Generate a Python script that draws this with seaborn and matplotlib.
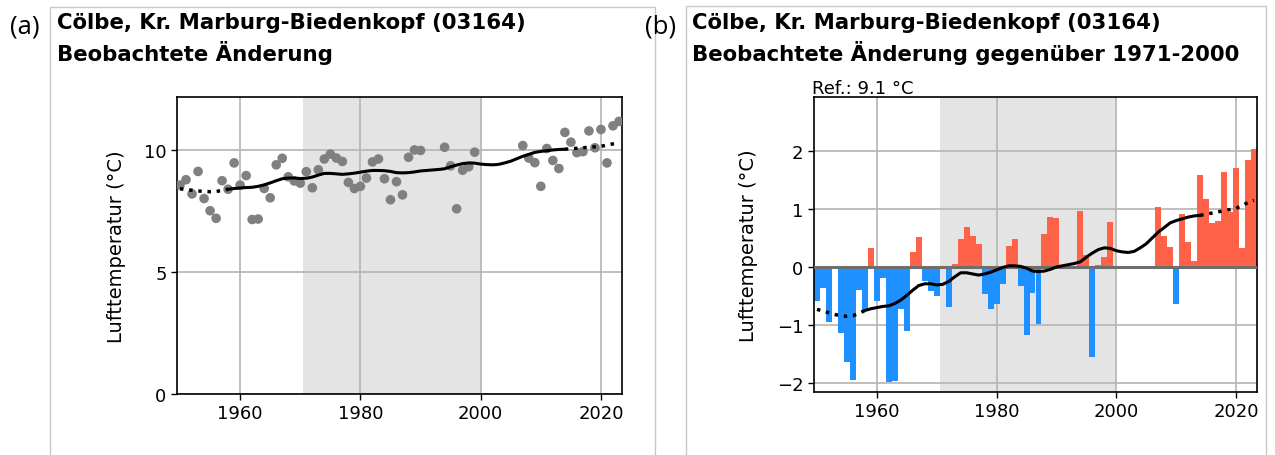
import numpy as np
import pandas as pd
import matplotlib.pyplot as plt
import seaborn as sns
from matplotlib.patches import Rectangle

# Annual mean temperature anomalies vs 1971-2000 (NaN = missing year)
years = list(range(1950, 2024))
ref_temp = 9.14
anomaly = [
    -0.58, -0.36, -0.94, -0.02, -1.13, -1.63, -1.94, -0.40, -0.75, 0.33,   # 1950-1959
    -0.58, -0.19, -1.99, -1.97, -0.72, -1.10, 0.25, 0.52, -0.24, -0.41,    # 1960-1969
    -0.50, -0.03, -0.69, 0.05, 0.49, 0.69, 0.53, 0.39, -0.47, -0.72,       # 1970-1979
    -0.63, -0.29, 0.37, 0.49, -0.32, -1.18, -0.44, -0.98, 0.56, 0.86,      # 1980-1989
    0.84, np.nan, np.nan, np.nan, 0.97, 0.21, -1.55, 0.03, 0.17, 0.77,     # 1990-1999
    np.nan, np.nan, np.nan, np.nan, np.nan, np.nan, np.nan, 1.04, 0.53, 0.34,  # 2000-2009
    -0.63, 0.92, 0.43, 0.10, 1.58, 1.18, 0.75, 0.79, 1.64, 0.95,           # 2010-2019
    1.70, 0.33, 1.85, 2.03,                                                 # 2020-2023
]
# smoothed trend (anomaly)
trend = [
    -0.73, -0.76, -0.79, -0.82, -0.84, -0.85, -0.84, -0.80, -0.75, -0.72,
    -0.70, -0.68, -0.67, -0.63, -0.57, -0.49, -0.40, -0.32, -0.29, -0.29,
    -0.31, -0.30, -0.25, -0.17, -0.10, -0.10, -0.12, -0.14, -0.12, -0.09,
    -0.05, -0.01, 0.02, 0.02, 0.01, -0.02, -0.07, -0.08, -0.07, -0.04,
    0.00, 0.02, 0.04, 0.06, 0.09, 0.17, 0.24, 0.30, 0.33, 0.32,
    0.28, 0.26, 0.25, 0.27, 0.33, 0.40, 0.50, 0.60, 0.68, 0.76,
    0.80, 0.83, 0.86, 0.88, 0.89, 0.91, 0.93, 0.95, 0.97, 0.99,
    1.01, 1.06, 1.11, 1.15,
]
ref_period = (1970.5, 2000)
solid_range = (1958, 2014)

df = pd.DataFrame({"year": years, "anom": anomaly, "trend": trend})
df["temp"] = ref_temp + df["anom"]
df["trend_abs"] = ref_temp + df["trend"]
solid = df[(df.year >= solid_range[0]) & (df.year <= solid_range[1])]
early = df[df.year <= solid_range[0]]
late = df[df.year >= solid_range[1]]

sns.set_style("ticks")
plt.rcParams["font.family"] = ["DejaVu Sans"]
for key in ["text.color", "axes.labelcolor", "xtick.color", "ytick.color"]:
    plt.rcParams[key] = "black"

W, H = 1275, 456
fig = plt.figure(figsize=(W / 100, H / 100), dpi=100)


def px_axes(l, t, r, b):
    return fig.add_axes([l / W, 1 - b / H, (r - l) / W, (b - t) / H])


# panel frames
for l, t, r in [(50, 8, 655), (686, 7, 1266)]:
    fig.patches.append(Rectangle((l / W, -0.05), (r - l) / W, 1.05 - t / H,
                                 transform=fig.transFigure, fill=False,
                                 edgecolor="#c8c8c8", lw=1.0))

grid_kw = dict(color="#b4b4b4", lw=1.2)
red, blue = "#ff6347", "#1e90ff"

# (a) absolute temperatures
ax_a = px_axes(177, 98, 622, 395)
ax_a.axvspan(*ref_period, color="#e4e4e4", lw=0, zorder=0)
sns.scatterplot(data=df, x="year", y="temp", color="#808080", s=48,
                edgecolor="none", ax=ax_a, zorder=3)
sns.lineplot(data=solid, x="year", y="trend_abs", color="black", lw=2.2, ax=ax_a, zorder=4)
for part in (early, late):
    sns.lineplot(data=part, x="year", y="trend_abs", color="black", lw=2.5,
                 linestyle=":", ax=ax_a, zorder=4)
ax_a.set_xlim(1949.5, 2023.5)
ax_a.set_ylim(0, 12.17)
ax_a.set_yticks([0, 5, 10])
ax_a.set_ylabel("Lufttemperatur (°C)", fontsize=14, labelpad=13)

# (b) anomalies
ax_b = px_axes(814, 98, 1257, 393)
ax_b.axvspan(*ref_period, color="#e4e4e4", lw=0, zorder=0)
colors = [red if v > 0 else blue for v in df["anom"].fillna(0)]
ax_b.bar(df["year"], df["anom"], width=1.0, color=colors, lw=0, zorder=2)
ax_b.axhline(0, color="#6e6e6e", lw=2.2, zorder=3)
sns.lineplot(data=solid, x="year", y="trend", color="black", lw=2.2, ax=ax_b, zorder=4)
for part in (early, late):
    sns.lineplot(data=part, x="year", y="trend", color="black", lw=2.5,
                 linestyle=":", ax=ax_b, zorder=4)
ax_b.set_xlim(1949.5, 2023.5)
ax_b.set_ylim(-2.155, 2.93)
ax_b.set_yticks([-2, -1, 0, 1, 2])
ax_b.set_ylabel("Lufttemperatur (°C)", fontsize=14, labelpad=14)
ax_b.text(-0.005, 1.0, f"Ref.: {ref_temp:.1f} °C", transform=ax_b.transAxes,
          ha="left", va="bottom", fontsize=13)

for ax in (ax_a, ax_b):
    ax.set_axisbelow(True)
    ax.grid(True, **grid_kw)
    ax.set_xticks([1960, 1980, 2000, 2020])
    ax.set_xlabel("")
    ax.tick_params(labelsize=13, length=4, width=1, color="black")
    for s in ax.spines.values():
        s.set_color("black")
        s.set_linewidth(1.2)

titles = [
    (57, "Cölbe, Kr. Marburg-Biedenkopf (03164)\nBeobachtete Änderung"),
    (692, "Cölbe, Kr. Marburg-Biedenkopf (03164)\nBeobachtete Änderung gegenüber 1971-2000"),
]
for x, txt in titles:
    fig.text(x / W, 1 - 13 / H, txt, ha="left", va="top", fontsize=15.3,
             fontweight="bold", linespacing=1.38)

fig.text(10 / W, 1 - 27 / H, "(a)", ha="left", va="center", fontsize=18.5,
         family=["Open Sans", "DejaVu Sans"])
fig.text(645 / W, 1 - 27 / H, "(b)", ha="left", va="center", fontsize=18.5,
         family=["Open Sans", "DejaVu Sans"])

fig.savefig("out.png", dpi=100)
